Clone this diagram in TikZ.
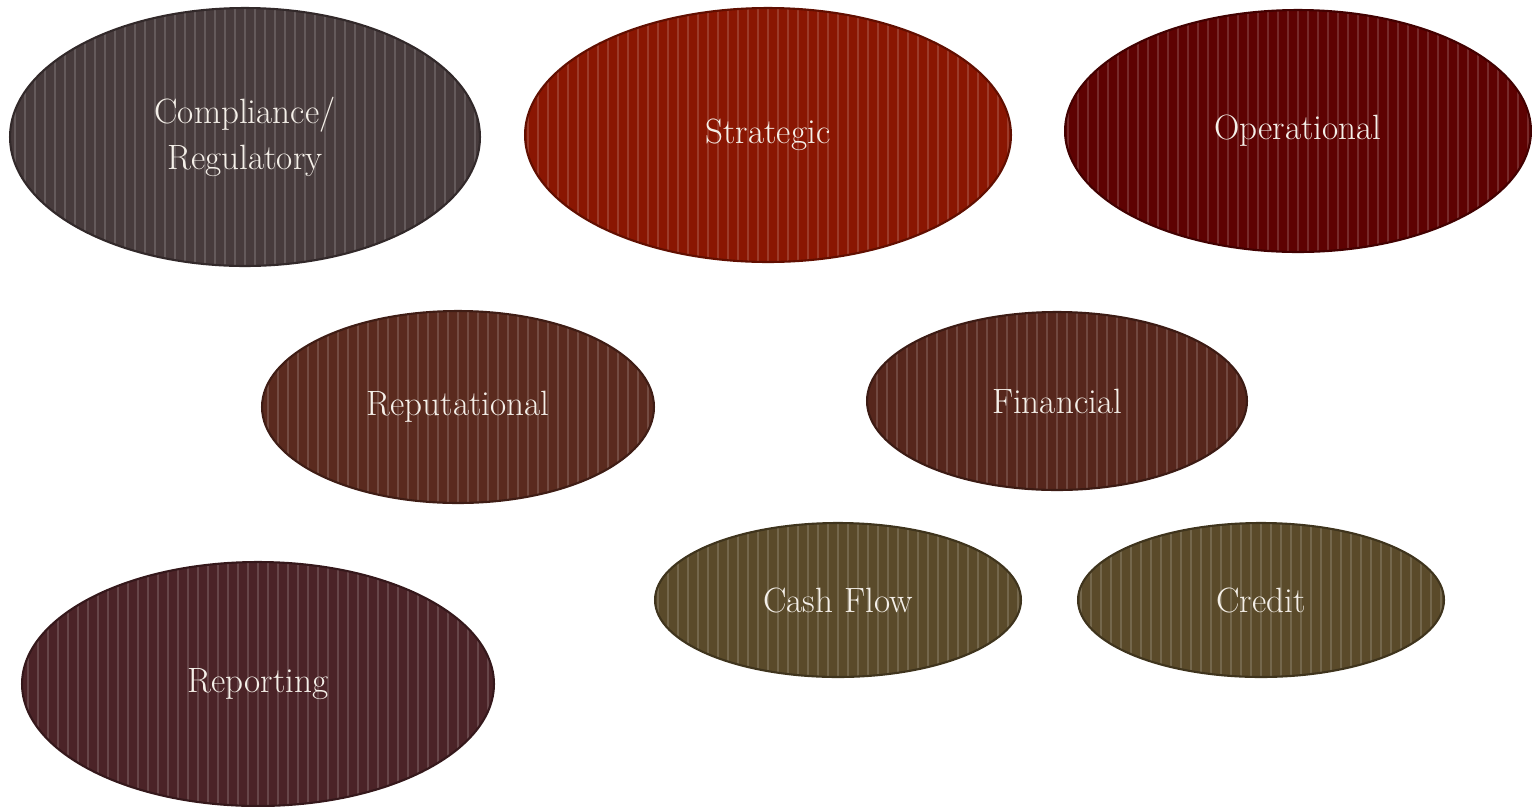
\documentclass[tikz,border=0pt]{standalone}
\usetikzlibrary{shapes.geometric}

\definecolor{compcol}{HTML}{473B3C}
\definecolor{stratcol}{HTML}{8A1602}
\definecolor{opercol}{HTML}{5E0202}
\definecolor{reputcol}{HTML}{5A2A1E}
\definecolor{fincol}{HTML}{56261C}
\definecolor{cashcol}{HTML}{5A4A2A}
\definecolor{reportcol}{HTML}{4B2327}
\definecolor{labelcol}{HTML}{F4EFE8}

\tikzset{
  risk/.style={ellipse, fill=#1, draw=#1!70!black, line width=1.2pt,
    inner sep=0pt, align=center, text=labelcol,
    font=\fontsize{20}{26}\selectfont,
    path picture={
      \foreach \k in {-60,...,60}
        \draw[white, opacity=0.16, line width=0.7pt]
          ([xshift=\k*2mm]path picture bounding box.south) --
          ([xshift=\k*2mm]path picture bounding box.north);
    }},
}

\begin{document}
\begin{tikzpicture}[x=0.02cm,y=-0.02cm]
    \useasboundingbox (0,0) rectangle (1532,806);
    % top row
    \node[risk=compcol, minimum width=9.4cm, minimum height=5.16cm] (comp) at (245,137) {Compliance/\\Regulatory};
    \node[risk=stratcol, minimum width=9.72cm, minimum height=5.08cm] (strat) at (768,135) {Strategic};
    \node[risk=opercol, minimum width=9.32cm, minimum height=4.84cm] (oper) at (1298,131) {Operational};
    % middle row
    \node[risk=reputcol, minimum width=7.84cm, minimum height=3.84cm] (reput) at (458,407) {Reputational};
    \node[risk=fincol, minimum width=7.6cm, minimum height=3.56cm] (fin) at (1057,401) {Financial};
    % bottom row
    \node[risk=cashcol, minimum width=7.32cm, minimum height=3.08cm] (cash) at (838,600) {Cash Flow};
    \node[risk=cashcol, minimum width=7.32cm, minimum height=3.08cm] (credit) at (1261,600) {Credit};
    \node[risk=reportcol, minimum width=9.44cm, minimum height=4.88cm] (report) at (258,684) {Reporting};
\end{tikzpicture}
\end{document}
